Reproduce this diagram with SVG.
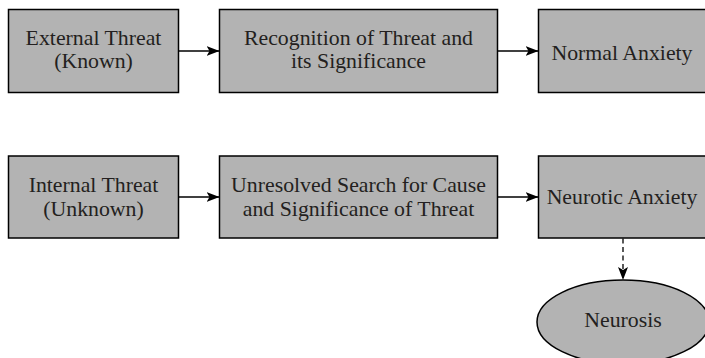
<svg xmlns="http://www.w3.org/2000/svg" width="705" height="358" viewBox="0 0 705 358">
<style>
.box{fill:#b3b3b3;stroke:#000;stroke-width:1.5}
.t{font-family:"Liberation Serif","Times New Roman",serif;font-size:21.8px;fill:#231f20;text-anchor:middle}
.c{stroke:#000;stroke-width:1.3;fill:none}
.d{stroke-dasharray:5 3.5}
</style>
<defs>
<marker id="ah" markerWidth="13" markerHeight="11" refX="13" refY="5.5" orient="auto" markerUnits="userSpaceOnUse">
<path d="M0,0.5 L13,5.5 L0,10.5 L3,5.5 Z" fill="#000"/>
</marker>
</defs>
<rect width="705" height="358" fill="#fff"/>
<g id="external">
<rect class="box" x="8.5" y="9.5" width="170" height="83"/>
<text class="t" x="93.5" y="44.5">External Threat</text>
<text class="t" x="93.5" y="67.5">(Known)</text>
</g>
<g id="recognition">
<rect class="box" x="219.5" y="9.5" width="278" height="83"/>
<text class="t" x="358.5" y="44.5">Recognition of Threat and</text>
<text class="t" x="358.5" y="67.5">its Significance</text>
</g>
<g id="normal">
<rect class="box" x="538.5" y="9.5" width="168" height="83"/>
<text class="t" x="622" y="59.5">Normal Anxiety</text>
</g>
<g id="internal">
<rect class="box" x="8.5" y="156" width="170" height="82"/>
<text class="t" x="93.5" y="192">Internal Threat</text>
<text class="t" x="93.5" y="215.5">(Unknown)</text>
</g>
<g id="unresolved">
<rect class="box" x="219.5" y="156" width="278" height="82"/>
<text class="t" x="358.5" y="192">Unresolved Search for Cause</text>
<text class="t" x="358.5" y="215.5">and Significance of Threat</text>
</g>
<g id="neurotic">
<rect class="box" x="538.5" y="156" width="168" height="82"/>
<text class="t" x="622" y="204">Neurotic Anxiety</text>
</g>
<g id="neurosis">
<ellipse class="box" cx="623" cy="322" rx="86" ry="42"/>
<text class="t" x="623" y="327">Neurosis</text>
</g>
<g id="connectors">
<line class="c" x1="178.5" y1="51" x2="219.5" y2="51" marker-end="url(#ah)"/>
<line class="c" x1="497.5" y1="51" x2="538.5" y2="51" marker-end="url(#ah)"/>
<line class="c" x1="178.5" y1="197" x2="219.5" y2="197" marker-end="url(#ah)"/>
<line class="c" x1="497.5" y1="197" x2="538.5" y2="197" marker-end="url(#ah)"/>
<line class="c d" x1="623" y1="238.5" x2="623" y2="280" marker-end="url(#ah)"/>
</g>
</svg>
